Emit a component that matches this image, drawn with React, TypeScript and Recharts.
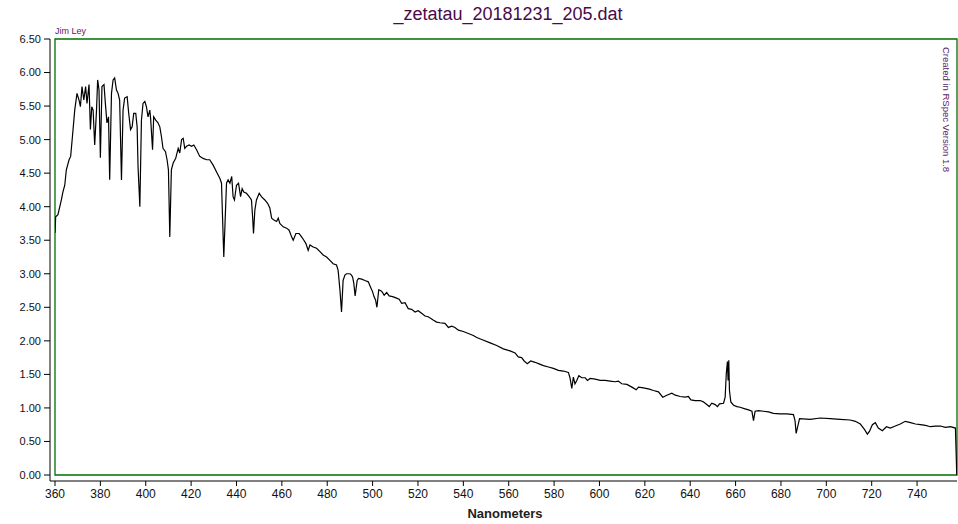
import React from 'react';
import {
  LineChart,
  Line,
  XAxis,
  YAxis,
  ReferenceArea,
} from 'recharts';

// spectrum (nm / relative intensity)
const nanometers = [
  360.0, 360.3, 361.3, 362.8, 363.5, 364.3, 365.0, 366.2, 366.9, 367.7,
  368.7, 369.7, 370.6, 371.2, 371.9, 372.7, 373.5, 374.1, 375.0, 375.6,
  376.2, 376.8, 377.5, 378.3, 378.8, 379.4, 380.0, 380.7, 381.6, 382.2,
  382.9, 383.6, 384.1, 384.9, 385.6, 386.3, 387.1, 387.8, 388.5, 389.3,
  390.0, 390.7, 391.8, 392.5, 393.3, 394.0, 394.7, 395.6, 396.2, 396.6,
  397.4, 398.1, 398.8, 399.6, 400.3, 401.0, 401.8, 402.2, 403.0, 403.5,
  404.4, 405.4, 406.2, 406.9, 407.6, 408.7, 409.4, 410.0, 410.6, 411.3,
  412.1, 413.2, 414.3, 415.0, 415.8, 416.5, 417.2, 418.0, 419.1, 420.2,
  421.2, 422.4, 423.8, 425.3, 426.8, 428.2, 429.7, 431.5, 432.7, 433.4,
  433.8, 434.4, 435.0, 435.6, 436.3, 437.1, 437.9, 438.5, 439.1, 440.0,
  440.9, 441.8, 442.5, 443.2, 444.4, 445.6, 446.6, 447.1, 447.5, 448.1,
  448.8, 450.0, 451.0, 452.5, 453.7, 454.7, 455.5, 456.5, 457.7, 458.4,
  459.1, 460.6, 462.1, 463.2, 464.3, 465.0, 466.2, 467.6, 468.7, 469.7,
  470.6, 471.6, 472.4, 473.8, 475.3, 476.8, 478.2, 479.7, 481.2, 482.6,
  484.1, 484.8, 485.6, 486.3, 487.0, 487.8, 488.5, 489.2, 490.0, 490.7,
  491.2, 491.7, 492.3, 493.2, 493.8, 495.2, 496.6, 498.1, 499.1, 500.0,
  500.6, 501.3, 501.9, 502.7, 503.5, 504.2, 505.1, 506.2, 507.3, 508.8,
  510.3, 511.7, 512.8, 514.3, 515.7, 517.2, 518.7, 520.1, 521.6, 523.1,
  524.5, 526.7, 528.2, 529.7, 531.9, 533.4, 534.9, 536.3, 537.8, 540.0,
  542.2, 544.4, 545.9, 548.1, 551.8, 554.7, 557.6, 560.6, 562.8, 564.2,
  565.7, 566.8, 568.2, 569.7, 571.6, 573.1, 575.3, 577.5, 579.7, 581.9,
  584.1, 586.3, 587.0, 587.8, 588.5, 589.2, 590.0, 590.9, 592.2, 593.7,
  594.7, 595.9, 598.1, 600.3, 602.5, 604.7, 606.9, 608.3, 609.8, 612.1,
  614.3, 616.2, 617.2, 619.4, 622.0, 623.8, 626.0, 627.9, 629.7, 631.9,
  633.4, 635.6, 637.8, 639.2, 640.3, 642.2, 644.4, 645.8, 647.3, 648.4,
  649.5, 651.0, 652.0, 652.9, 654.7, 655.4, 655.9, 656.4, 656.7, 657.0,
  657.3, 657.9, 659.1, 660.6, 662.0, 663.8, 665.7, 667.2, 667.9, 668.6,
  670.1, 672.3, 674.5, 676.7, 679.7, 682.6, 685.5, 686.2, 686.7, 687.3,
  688.2, 692.9, 697.3, 701.7, 706.1, 710.5, 712.8, 715.0, 716.8, 718.1,
  719.0, 720.3, 721.6, 722.9, 724.7, 726.5, 728.2, 730.4, 732.6, 734.8,
  737.1, 739.3, 741.5, 743.7, 745.9, 748.1, 750.3, 752.5, 754.7, 756.9,
  757.5,
];

const intensity = [
  3.61, 3.85, 3.88, 4.10, 4.22, 4.32, 4.55, 4.70, 4.75, 5.05,
  5.44, 5.69, 5.59, 5.49, 5.79, 5.59, 5.79, 5.54, 5.82, 5.15,
  5.49, 5.44, 4.92, 5.44, 5.89, 5.74, 4.73, 5.79, 5.82, 5.54,
  5.25, 5.34, 4.40, 5.69, 5.89, 5.92, 5.74, 5.69, 5.59, 4.40,
  5.44, 5.62, 5.64, 5.39, 5.15, 5.19, 5.39, 5.39, 5.19, 4.60,
  4.00, 5.29, 5.54, 5.57, 5.49, 5.34, 5.44, 5.29, 4.85, 5.34,
  5.29, 5.25, 5.19, 5.05, 4.87, 4.82, 4.70, 4.55, 3.55, 4.55,
  4.65, 4.72, 4.87, 4.80, 5.00, 5.02, 4.87, 4.90, 4.92, 4.90,
  4.92, 4.85, 4.75, 4.72, 4.70, 4.70, 4.62, 4.50, 4.42, 4.35,
  3.90, 3.25, 3.80, 4.35, 4.40, 4.35, 4.45, 4.15, 4.10, 4.32,
  4.35, 4.15, 4.27, 4.22, 4.20, 4.15, 4.10, 3.85, 3.60, 3.95,
  4.10, 4.20, 4.15, 4.10, 4.05, 3.98, 3.83, 3.80, 3.78, 3.83,
  3.75, 3.70, 3.68, 3.65, 3.55, 3.50, 3.60, 3.60, 3.55, 3.50,
  3.45, 3.35, 3.43, 3.40, 3.38, 3.33, 3.28, 3.25, 3.20, 3.15,
  3.13, 3.05, 2.76, 2.43, 2.90, 2.98, 3.00, 3.00, 3.00, 2.98,
  2.95, 2.86, 2.67, 2.90, 2.93, 2.92, 2.90, 2.88, 2.80, 2.73,
  2.66, 2.61, 2.50, 2.76, 2.75, 2.73, 2.68, 2.72, 2.67, 2.66,
  2.64, 2.62, 2.56, 2.57, 2.48, 2.47, 2.43, 2.45, 2.41, 2.37,
  2.36, 2.31, 2.28, 2.27, 2.26, 2.20, 2.22, 2.20, 2.16, 2.14,
  2.11, 2.08, 2.05, 2.02, 1.97, 1.93, 1.88, 1.85, 1.82, 1.76,
  1.75, 1.70, 1.66, 1.70, 1.68, 1.66, 1.63, 1.61, 1.59, 1.56,
  1.55, 1.53, 1.45, 1.29, 1.46, 1.36, 1.41, 1.48, 1.45, 1.45,
  1.41, 1.44, 1.43, 1.41, 1.41, 1.40, 1.39, 1.40, 1.36, 1.35,
  1.31, 1.27, 1.31, 1.30, 1.28, 1.26, 1.24, 1.16, 1.19, 1.22,
  1.19, 1.17, 1.16, 1.17, 1.12, 1.11, 1.11, 1.09, 1.05, 1.02,
  1.07, 1.05, 1.02, 1.06, 1.07, 1.16, 1.51, 1.69, 1.41, 1.71,
  1.26, 1.09, 1.04, 1.02, 1.01, 0.99, 0.97, 0.95, 0.81, 0.95,
  0.96, 0.95, 0.94, 0.92, 0.91, 0.91, 0.90, 0.81, 0.62, 0.71,
  0.84, 0.83, 0.85, 0.84, 0.83, 0.82, 0.80, 0.76, 0.68, 0.61,
  0.65, 0.75, 0.78, 0.70, 0.66, 0.72, 0.70, 0.73, 0.76, 0.80,
  0.78, 0.76, 0.75, 0.74, 0.72, 0.73, 0.73, 0.71, 0.72, 0.70,
  0.0,
];

const xTicks = [360, 380, 400, 420, 440, 460, 480, 500, 520, 540, 560, 580, 600, 620, 640, 660, 680, 700, 720, 740];
const yTicks = [0, 0.5, 1, 1.5, 2, 2.5, 3, 3.5, 4, 4.5, 5, 5.5, 6, 6.5];

const X_MIN = 360;
const X_MAX = 757.6;

const data = nanometers.map((nm, i) => ({ nm, value: intensity[i] }));

const font = '"Liberation Sans", Arial, sans-serif';

export default function App() {
  return (
    <div style={{ position: 'absolute', left: 0, top: 0, width: 958, height: 524, background: '#fff', fontFamily: font }}>
      <div
        style={{
          position: 'absolute',
          left: 0,
          width: 1016,
          top: 4,
          textAlign: 'center',
          fontSize: 18,
          color: '#4a0a4a',
        }}
      >
        _zetatau_20181231_205.dat
      </div>
      <div style={{ position: 'absolute', left: 55, top: 26, fontSize: 9, color: '#5a1a6a' }}>Jim Ley</div>
      <div
        style={{
          position: 'absolute',
          left: 941,
          top: 47,
          fontSize: 9.5,
          color: '#5a1a6a',
          writingMode: 'vertical-rl',
          whiteSpace: 'nowrap',
        }}
      >
        Created in RSpec Version 1.8
      </div>
      <div
        style={{
          position: 'absolute',
          left: 0,
          width: 1010,
          top: 506,
          textAlign: 'center',
          fontSize: 13,
          fontWeight: 'bold',
          color: '#222',
        }}
      >
        Nanometers
      </div>
      <LineChart
        width={958}
        height={524}
        data={data}
        margin={{ top: 39, right: 1, left: 0, bottom: 18 }}
        style={{ position: 'absolute', left: 0, top: 0 }}
      >
        <XAxis
          dataKey="nm"
          type="number"
          domain={[X_MIN, X_MAX]}
          ticks={xTicks}
          allowDataOverflow
          padding={{ left: 5, right: 0 }}
          height={25}
          tickSize={5}
          tickMargin={3}
          stroke="#000"
          tick={{ fill: '#111', fontSize: 12, fontFamily: font }}
        />
        <YAxis
          type="number"
          domain={[0, 6.5]}
          ticks={yTicks}
          allowDataOverflow
          padding={{ top: 0, bottom: 6 }}
          width={50}
          tickSize={6}
          tickMargin={3}
          stroke="#000"
          tickFormatter={(v: number) => v.toFixed(2)}
          tick={{ fill: '#111', fontSize: 11, fontFamily: font }}
        />
        <ReferenceArea
          x1={X_MIN}
          x2={X_MAX}
          y1={0}
          y2={6.5}
          fill="none"
          fillOpacity={0}
          stroke="#007000"
          strokeWidth={1.3}
        />
        <Line
          type="linear"
          dataKey="value"
          stroke="#000"
          strokeWidth={1.2}
          dot={false}
          isAnimationActive={false}
        />
      </LineChart>
    </div>
  );
}
